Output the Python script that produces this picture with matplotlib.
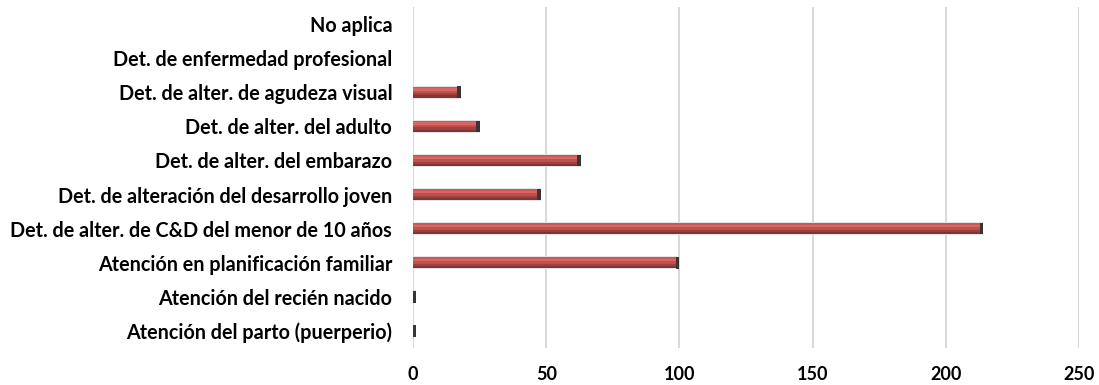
import matplotlib.pyplot as plt

plt.rcParams['font.family'] = ['Lato', 'DejaVu Sans']

# categorías (de abajo hacia arriba)
categorias = [
    'Atención del parto (puerperio)',
    'Atención del recién nacido',
    'Atención en planificación familiar',
    'Det. de alter. de C&D del menor de 10 años',
    'Det. de alteración del desarrollo joven',
    'Det. de alter. del embarazo',
    'Det. de alter. del adulto',
    'Det. de alter. de agudeza visual',
    'Det. de enfermedad profesional',
    'No aplica',
]
valores = [1, 1, 100, 214, 48, 63, 25, 18, 0, 0]
xticks = [0, 50, 100, 150, 200, 250]

fig = plt.figure(figsize=(10.99, 3.85), dpi=100)
ax = fig.add_axes([0.3758, 0.096, 0.606, 0.886])

pos = list(range(len(categorias)))
h = 0.32
vals = [v if v > 0 else 0 for v in valores]

# contorno / sombra
ax.barh(pos, vals, height=h + 0.06, color='#e4e4e4', zorder=2)
# franjas para simular el cilindro
franjas = [
    (-0.50, 0.20, '#7e3533'),
    (-0.30, 0.20, '#9a4240'),
    (-0.10, 0.25, '#c0504d'),
    (0.15, 0.20, '#dc6461'),
    (0.35, 0.15, '#c85a57'),
]
for off, frac, col in franjas:
    ax.barh([p + off * h + frac * h / 2 for p in pos], vals,
            height=frac * h, color=col, linewidth=0, zorder=3)
# tapa oscura al final
caps = [v for v in vals]
ax.barh([p for p, v in zip(pos, caps) if v > 0],
        [1.3 for v in caps if v > 0],
        left=[v - 1.3 for v in caps if v > 0],
        height=h + 0.02, color='#3b3434', linewidth=0, zorder=4)

ax.set_xlim(0, 250)
ax.set_ylim(-0.5, len(categorias) - 0.5)
ax.set_xticks(xticks)
ax.set_xticklabels([str(t) for t in xticks], fontsize=13, fontweight='bold')
ax.set_yticks(pos)
ax.set_yticklabels(categorias, fontsize=14.2, fontweight='bold')
ax.tick_params(axis='x', length=0, pad=13)
ax.tick_params(axis='y', length=0, pad=15)
ax.grid(axis='x', color='#d9d9d9', linewidth=1.5, zorder=0)
ax.set_axisbelow(True)
for s in ax.spines.values():
    s.set_visible(False)

fig.savefig('out.png', dpi=100)
